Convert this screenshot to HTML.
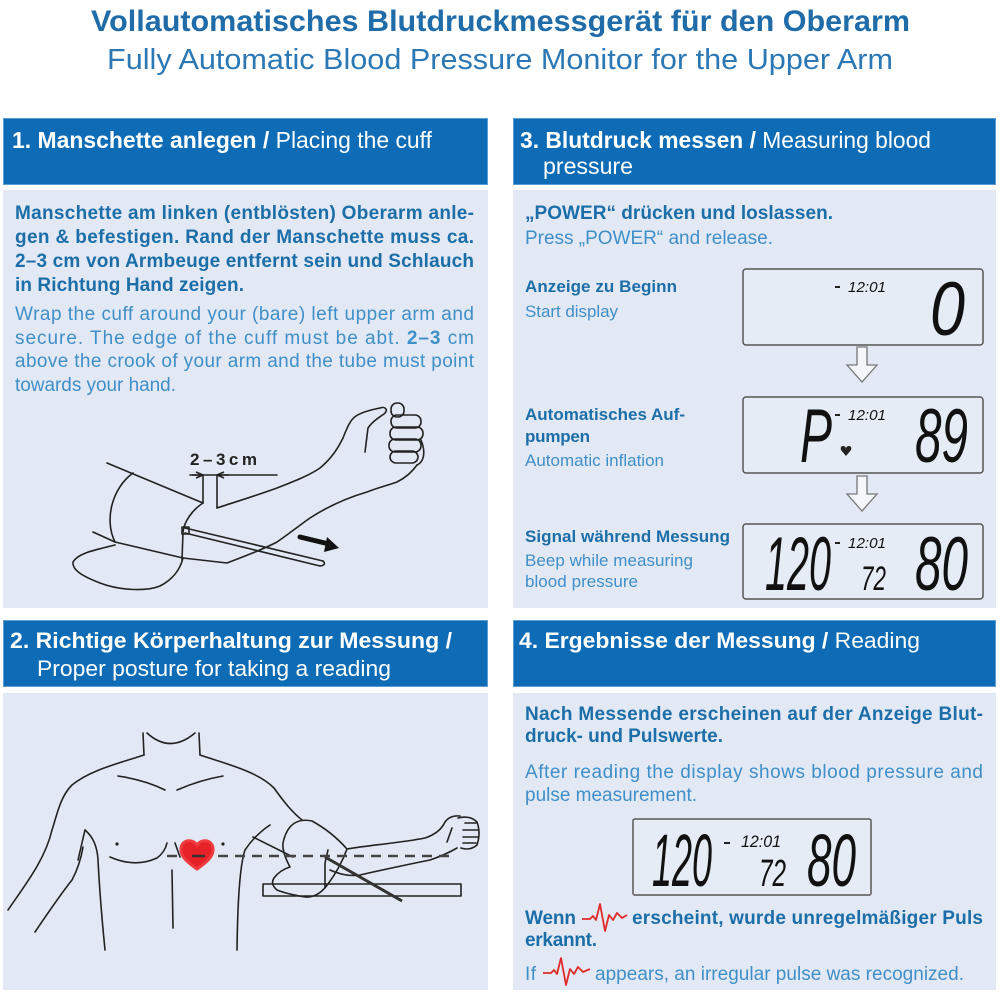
<!DOCTYPE html>
<html><head><meta charset="utf-8">
<style>
html,body{margin:0;padding:0;background:#fff;}
svg{display:block;}
.t{font-family:"Liberation Sans",Arial,sans-serif;}
.hb{fill:#0d6cb5;stroke:#5b9dd3;stroke-width:1;}
.bd{fill:#e2e9f4;}
.bb{font-weight:bold;fill:#1b6ea8;}
.rg{fill:#3f8fc8;}
.hw{fill:#ffffff;}
.ln{fill:none;stroke:#222;stroke-width:1.6;stroke-linecap:round;stroke-linejoin:round;}
.lcd{font-family:"Liberation Sans",Arial,sans-serif;font-style:italic;fill:#111;}
.box{fill:#e6ecf5;stroke:#555;stroke-width:1.5;}
.arr{fill:#f3f6fa;stroke:#777;stroke-width:1.3;}
</style></head>
<body>
<svg width="1000" height="1000" viewBox="0 0 1000 1000" xmlns="http://www.w3.org/2000/svg">
<rect width="1000" height="1000" fill="#fff"/>

<!-- Titles -->
<text class="t" x="91" y="31" font-size="30" font-weight="bold" fill="#1f6ca8" textLength="819" lengthAdjust="spacingAndGlyphs">Vollautomatisches Blutdruckmessgerät für den Oberarm</text>
<text class="t" x="107" y="69" font-size="29" fill="#2b78b5" textLength="786" lengthAdjust="spacingAndGlyphs">Fully Automatic Blood Pressure Monitor for the Upper Arm</text>

<!-- Panel backgrounds -->
<rect class="hb" x="3.5" y="118.5" width="484" height="66"/>
<rect class="hb" x="513.5" y="118.5" width="482" height="66"/>
<rect class="bd" x="3" y="190" width="485" height="418"/>
<rect class="bd" x="513" y="190" width="483" height="418"/>
<rect class="hb" x="3.5" y="620.5" width="484" height="66"/>
<rect class="hb" x="513.5" y="620.5" width="482" height="66"/>
<rect class="bd" x="3" y="693" width="485" height="297"/>
<rect class="bd" x="513" y="693" width="483" height="297"/>

<!-- Header texts -->
<text class="t hw" x="12" y="148" font-size="23" textLength="420" lengthAdjust="spacingAndGlyphs"><tspan font-weight="bold">1. Manschette anlegen /</tspan> Placing the cuff</text>
<text class="t hw" x="520" y="148" font-size="23" textLength="411" lengthAdjust="spacingAndGlyphs"><tspan font-weight="bold">3. Blutdruck messen /</tspan> Measuring blood</text>
<text class="t hw" x="543" y="174" font-size="23" textLength="90" lengthAdjust="spacingAndGlyphs">pressure</text>
<text class="t hw" x="10" y="648" font-size="22" font-weight="bold" textLength="442" lengthAdjust="spacingAndGlyphs">2. Richtige Körperhaltung zur Messung /</text>
<text class="t hw" x="37" y="676" font-size="22" textLength="354" lengthAdjust="spacingAndGlyphs">Proper posture for taking a reading</text>
<text class="t hw" x="519" y="648" font-size="22" textLength="401" lengthAdjust="spacingAndGlyphs"><tspan font-weight="bold">4. Ergebnisse der Messung /</tspan> Reading</text>

<!-- Panel 1 text -->
<g class="t" font-size="19">
<text class="bb" x="15" y="219" textLength="459" lengthAdjust="spacing">Manschette am linken (entblösten) Oberarm anle-</text>
<text class="bb" x="15" y="243" textLength="459" lengthAdjust="spacing">gen &amp; befestigen. Rand der Manschette muss ca.</text>
<text class="bb" x="15" y="267" textLength="459" lengthAdjust="spacing">2–3 cm von Armbeuge entfernt sein und Schlauch</text>
<text class="bb" x="15" y="291" textLength="229" lengthAdjust="spacing">in Richtung Hand zeigen.</text>
<text class="rg" x="15" y="320" textLength="459" lengthAdjust="spacing">Wrap the cuff around your (bare) left upper arm and</text>
<text class="rg" x="15" y="344" textLength="459" lengthAdjust="spacing">secure. The edge of the cuff must be abt. <tspan font-weight="bold">2–3</tspan> cm</text>
<text class="rg" x="15" y="367" textLength="459" lengthAdjust="spacing">above the crook of your arm and the tube must point</text>
<text class="rg" x="15" y="391" textLength="161" lengthAdjust="spacing">towards your hand.</text>
</g>

<!-- Panel 1 drawing -->
<g class="ln">
<path d="M107,463 L203,503"/>
<path d="M133,473 C112,488 104,520 115,542"/>
<path d="M93,532 L115,542 L183,558"/>
<path d="M115,545 C95,550 78,553 73,562 C72,570 82,576 100,583 C118,590 145,592 160,586 C172,580 180,570 183,558"/>
<path d="M203,503 C192,510 184,522 183,532 L182,560"/>
<path d="M183,558 L227,563 C245,556 262,550 277,542 C290,533 300,525 310,518 C330,505 350,497 367,492 C380,487 392,484 397,482 C405,478 412,472 417,465"/>
<path d="M217,508 C235,502 258,495 277,488 C295,481 310,475 320,468 C332,458 338,448 343,438 C347,428 350,420 356,416 C362,412 370,410 380,408"/>
<path d="M380,408 C385,406 389,410 384,414 C378,418 372,422 368,428 L365,452"/>
<rect x="391" y="403" width="13" height="14" rx="6"/>
<rect x="391" y="415" width="30" height="13" rx="6"/>
<rect x="390" y="427" width="33" height="13" rx="6"/>
<rect x="389" y="439" width="32" height="13" rx="6"/>
<rect x="390" y="451" width="28" height="12" rx="6"/>
<path d="M421,440 C426,452 424,462 417,465"/>
<path d="M185,528 L323,561"/>
<path d="M185,533 L320,566"/>
<path d="M323,561 Q327,565 320,566"/>
<rect x="182" y="527" width="7" height="7"/>
<path d="M190,475 L277,475"/>
<path d="M203,475 L203,503"/>
<path d="M217,475 L217,508"/>
</g>
<path d="M192,475 L203,475 M196,472 L203,475 L196,478" stroke="#222" stroke-width="1.6" fill="none"/>
<path d="M229,475 L217,475 M224,472 L217,475 L224,478" stroke="#222" stroke-width="1.6" fill="none"/>
<path d="M300,537 L329,544" stroke="#111" stroke-width="5" stroke-linecap="round"/>
<path d="M327,537 L339,548 L324,552 Z" fill="#111"/>
<text class="t" x="190" y="465" font-size="17" font-weight="bold" fill="#222" textLength="67" lengthAdjust="spacing">2–3cm</text>

<!-- Panel 3 text -->
<g class="t">
<text class="bb" x="525" y="219" font-size="19" textLength="308" lengthAdjust="spacing">„POWER“ drücken und loslassen.</text>
<text class="rg" x="525" y="244" font-size="19" textLength="248" lengthAdjust="spacing">Press „POWER“ and release.</text>
<text class="bb" x="525" y="292" font-size="17" textLength="152" lengthAdjust="spacing">Anzeige zu Beginn</text>
<text class="rg" x="525" y="317" font-size="17" textLength="93" lengthAdjust="spacing">Start display</text>
<text class="bb" x="525" y="420" font-size="17" textLength="160" lengthAdjust="spacing">Automatisches Auf-</text>
<text class="bb" x="525" y="442" font-size="17" textLength="65" lengthAdjust="spacing">pumpen</text>
<text class="rg" x="525" y="466" font-size="17" textLength="139" lengthAdjust="spacing">Automatic inflation</text>
<text class="bb" x="525" y="542" font-size="17" textLength="205" lengthAdjust="spacing">Signal während Messung</text>
<text class="rg" x="525" y="566" font-size="17" textLength="168" lengthAdjust="spacing">Beep while measuring</text>
<text class="rg" x="525" y="587" font-size="17" textLength="113" lengthAdjust="spacing">blood pressure</text>
</g>

<!-- Displays panel 3 -->
<rect class="box" x="743" y="269" width="240" height="76" rx="3"/>
<rect x="835" y="286" width="5" height="2" fill="#222"/>
<text class="lcd" x="848" y="292" font-size="15" textLength="38" lengthAdjust="spacingAndGlyphs">12:01</text>
<text class="lcd" x="930" y="335" font-size="76" textLength="35" lengthAdjust="spacingAndGlyphs">0</text>

<path class="arr" d="M857,347 L867,347 L867,365 L877,365 L862,382 L847,365 L857,365 Z"/>

<rect class="box" x="743" y="397" width="240" height="76" rx="3"/>
<text class="lcd" x="800" y="462" font-size="76" textLength="32" lengthAdjust="spacingAndGlyphs">P</text>
<rect x="835" y="414" width="5" height="2" fill="#222"/>
<text class="lcd" x="848" y="420" font-size="15" textLength="38" lengthAdjust="spacingAndGlyphs">12:01</text>
<path d="M846,456 L841,450 Q840,446 843,446 Q846,446 846,449 Q846,446 849,446 Q852,446 851,450 Z" fill="#222"/>
<text class="lcd" x="915" y="462" font-size="76" textLength="53" lengthAdjust="spacingAndGlyphs">89</text>

<path class="arr" d="M857,476 L867,476 L867,494 L877,494 L862,511 L847,494 L857,494 Z"/>

<rect class="box" x="743" y="524" width="240" height="75" rx="3"/>
<text class="lcd" x="765" y="590" font-size="76" textLength="66" lengthAdjust="spacingAndGlyphs">120</text>
<rect x="835" y="542" width="5" height="2" fill="#222"/>
<text class="lcd" x="848" y="548" font-size="15" textLength="38" lengthAdjust="spacingAndGlyphs">12:01</text>
<text class="lcd" x="861" y="590" font-size="34" textLength="25" lengthAdjust="spacingAndGlyphs">72</text>
<text class="lcd" x="915" y="590" font-size="76" textLength="53" lengthAdjust="spacingAndGlyphs">80</text>

<!-- Panel 2 drawing -->
<g class="ln">
<path d="M143,733 L144,755"/>
<path d="M147,733 Q170,754 195,733"/>
<path d="M199,733 L200,755"/>
<path d="M144,755 C120,763 90,770 72,785 C60,797 57,815 52,830 C45,860 25,885 8,910"/>
<path d="M200,755 C230,765 258,772 274,788 C284,802 292,812 302,820"/>
<path d="M118,776 Q145,780 165,790"/>
<path d="M177,790 Q200,780 223,776"/>
<path d="M85,830 Q97,840 98,860 Q100,900 105,950"/>
<path d="M85,830 L78,860"/>
<path d="M35,932 Q60,895 72,880 Q80,865 83,847"/>
<path d="M110,857 Q135,868 157,858 Q165,852 167,843"/>
<path d="M175,843 L180,857"/>
<path d="M172,870 L173,928"/>
<path d="M270,825 Q255,835 245,850 Q238,870 237,950"/>
<path d="M253,837 L293,857"/>
<path d="M290,827 Q298,818 312,821 Q332,832 347,849 Q340,868 328,884 Q318,898 305,897 Q287,894 277,890 Q270,884 274,878 Q280,870 290,867 Q282,852 283,843 Q285,833 290,827 Z"/>
<path d="M328,850 L325,863 L325,887"/>
<path d="M347,849 C370,845 400,843 425,838 Q440,833 445,822 Q450,815 460,816"/>
<path d="M330,870 Q345,877 360,875 Q400,866 430,860 Q445,855 457,848"/>
<path d="M458,818 Q470,815 477,822 Q481,833 477,845 Q470,851 461,848"/>
<path d="M465,823 L476,823 M463,830 L478,830 M463,837 L478,837 M463,843 L476,843"/>
<path d="M452,828 L447,842"/>
<rect x="263" y="884" width="198" height="12"/>
</g>
<path d="M325,857 L402,901" stroke="#333" stroke-width="3"/>
<path d="M167,856 L453,856" stroke="#444" stroke-width="2.5" stroke-dasharray="10,7"/>
<circle cx="117" cy="844" r="1.6" fill="#222"/>
<circle cx="223" cy="844" r="1.6" fill="#222"/>
<path d="M197,869 C187,862 180,856 181,848 C182,840 192,838 197,845 C202,838 212,840 213,848 C214,856 207,862 197,869 Z" fill="#e62228" stroke="#ef3a3f" stroke-width="3"/>
<path d="M192,856 L205,856" stroke="#333" stroke-width="2.5"/>

<!-- Panel 4 text -->
<g class="t" font-size="19">
<text class="bb" x="525" y="720" textLength="458" lengthAdjust="spacing">Nach Messende erscheinen auf der Anzeige Blut-</text>
<text class="bb" x="525" y="742" textLength="198" lengthAdjust="spacing">druck- und Pulswerte.</text>
<text class="rg" x="525" y="778" textLength="458" lengthAdjust="spacing">After reading the display shows blood pressure and</text>
<text class="rg" x="525" y="801" textLength="172" lengthAdjust="spacing">pulse measurement.</text>
<text class="bb" x="525" y="924" textLength="51" lengthAdjust="spacing">Wenn</text>
<text class="bb" x="632" y="924" textLength="351" lengthAdjust="spacing">erscheint, wurde unregelmäßiger Puls</text>
<text class="bb" x="525" y="946" textLength="72" lengthAdjust="spacing">erkannt.</text>
<text class="rg" x="525" y="980" textLength="11" lengthAdjust="spacing">If</text>
<text class="rg" x="595" y="980" textLength="369" lengthAdjust="spacing">appears, an irregular pulse was recognized.</text>
</g>
<path d="M582,919 L590,919 L593,916 L596,920 L600,904 L605,931 L609,915 L613,920 L617,913 L622,918 L627,915" fill="none" stroke="#e02a2a" stroke-width="1.8" stroke-linejoin="round"/>
<path d="M543,973 L551,973 L554,970 L557,974 L561,958 L566,985 L570,969 L574,974 L578,967 L583,972 L590,969" fill="none" stroke="#e02a2a" stroke-width="1.8" stroke-linejoin="round"/>

<!-- Panel 4 display -->
<rect class="box" x="633" y="819" width="238" height="76" rx="2"/>
<text class="lcd" x="652" y="886" font-size="74" textLength="60" lengthAdjust="spacingAndGlyphs">120</text>
<rect x="724" y="842" width="6" height="2" fill="#222"/>
<text class="lcd" x="741" y="847" font-size="17" textLength="40" lengthAdjust="spacingAndGlyphs">12:01</text>
<text class="lcd" x="759" y="886" font-size="38" textLength="27" lengthAdjust="spacingAndGlyphs">72</text>
<text class="lcd" x="807" y="886" font-size="74" textLength="49" lengthAdjust="spacingAndGlyphs">80</text>
</svg>
</body></html>
